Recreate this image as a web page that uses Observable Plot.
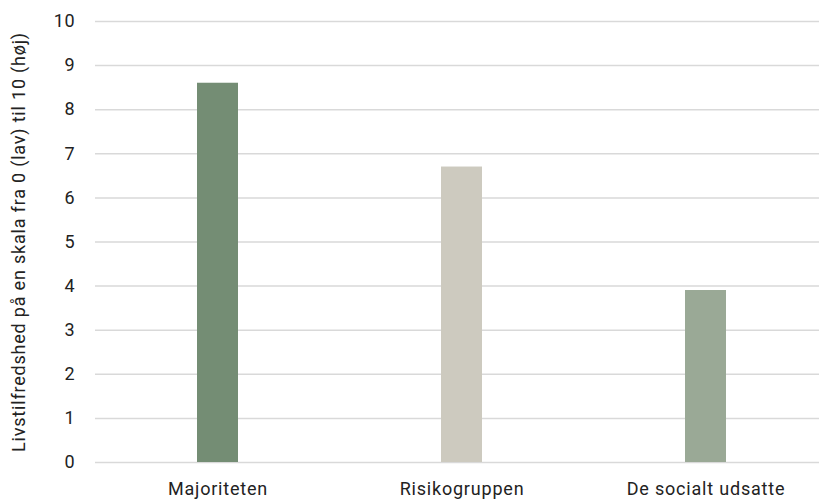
<!DOCTYPE html>
<html>
<head>
<meta charset="utf-8">
<script src="https://cdn.jsdelivr.net/npm/d3@7"></script>
<script src="https://cdn.jsdelivr.net/npm/@observablehq/plot@0.6"></script>
<style>
  html, body { margin: 0; padding: 0; background: #fff; overflow: hidden; }
  svg text { letter-spacing: 0.8px; }
</style>
</head>
<body>
<div id="chart"></div>
<script>
const categories = ["Majoriteten", "Risikogruppen", "De socialt udsatte"];
const values = [8.6, 6.7, 3.9];
const colors = ["#748d74", "#cdcabf", "#9aa996"];
const yTicks = [0, 1, 2, 3, 4, 5, 6, 7, 8, 9, 10];
const yLabel = "Livstilfredshed på en skala fra 0 (lav) til 10 (høj)";

const data = categories.map((c, i) => ({category: c, value: values[i], color: colors[i]}));

const chart = Plot.plot({
  width: 819,
  height: 500,
  marginTop: 21,
  marginBottom: 38,
  marginLeft: 95,
  marginRight: -8,
  style: {fontFamily: "Roboto, sans-serif", fontSize: "18px", color: "#222", background: "#fff", overflow: "hidden"},
  x: {domain: categories, range: [95, 827], paddingInner: 0.832, paddingOuter: 0.416, label: null},
  y: {domain: [0, 10]},
  marks: [
    Plot.gridY(yTicks, {stroke: "#d9d9d9", strokeOpacity: 1, strokeWidth: 1.5, insetRight: -30}),
    Plot.barY(data, {x: "category", y: "value", fill: "color"}),
    Plot.axisY(yTicks, {
      tickSize: 0, tickPadding: 20, fontSize: 18,
      label: yLabel, labelAnchor: "center", labelArrow: "none", labelOffset: 83
    }),
    Plot.axisX({tickSize: 0, tickPadding: 20, fontSize: 18, label: null})
  ]
});
document.getElementById("chart").appendChild(chart);
</script>
</body>
</html>
